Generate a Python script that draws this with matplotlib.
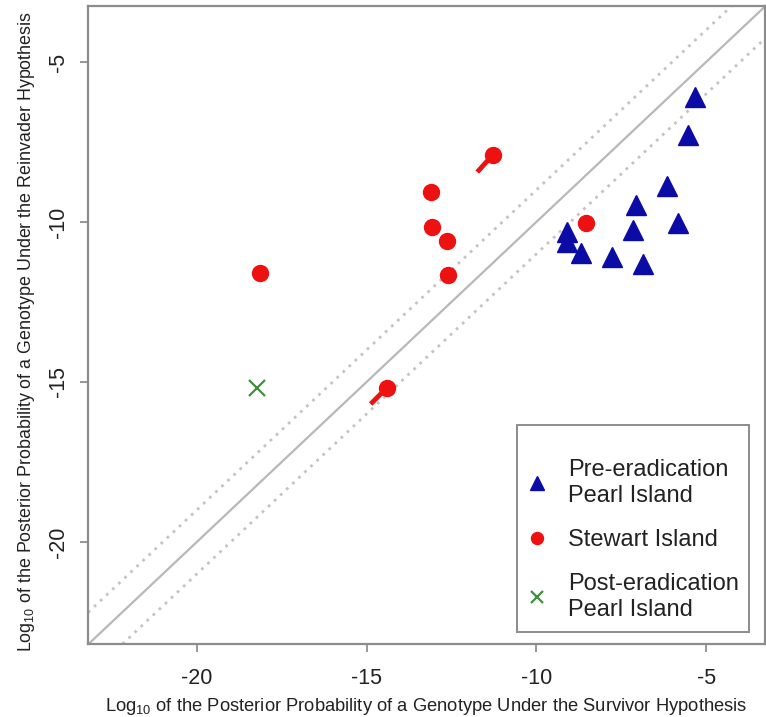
import matplotlib
matplotlib.use("Agg")
import matplotlib.pyplot as plt

plt.rcParams['font.family'] = ['Liberation Sans', 'DejaVu Sans']
plt.rcParams['mathtext.default'] = 'regular'

# ---- data (log10 posterior probabilities) ----
pre_x = [-5.32, -5.53, -6.15, -7.06, -5.82, -7.15, -9.09, -9.09, -8.68, -7.76, -6.85]
pre_y = [-6.09, -7.28, -8.88, -9.47, -10.03, -10.25, -10.31, -10.63, -10.97, -11.09, -11.31]

stew_x = [-11.29, -13.09, -13.06, -12.62, -12.59, -18.15, -14.41, -8.53]
stew_y = [-7.91, -9.06, -10.16, -10.59, -11.66, -11.59, -15.19, -10.03]

# short segments attached to two Stewart Island points
tail_x0 = [-11.29, -14.41]
tail_y0 = [-7.91, -15.19]
tail_x1 = [-11.74, -14.88]
tail_y1 = [-8.44, -15.69]

post_x = [-18.24]
post_y = [-15.19]

line_offsets = [0, 1, -1]
ticks = [-20, -15, -10, -5]
labels = ["Pre-eradication\nPearl Island", "Stewart Island", "Post-eradication\nPearl Island"]

# ---- figure ----
fig = plt.figure(figsize=(7.66, 7.17), dpi=100)
ax = fig.add_axes([88/766, 73/717, 677/766, 638/717])

ax.set_xlim(-23.206, -3.265)
ax.set_ylim(-23.19, -3.25)

for off in line_offsets:
    if off == 0:
        ax.axline((0, off), slope=1, color='#b8b8b8', lw=1.6, zorder=1)
    else:
        ax.axline((0, off), slope=1, color='#c4c4c4', lw=2.0,
                  linestyle=(0, (1, 2)), zorder=1)

for x0, y0, x1, y1 in zip(tail_x0, tail_y0, tail_x1, tail_y1):
    ax.plot([x0, x1], [y0, y1], color='#ee1111', lw=3.5, solid_capstyle='butt', zorder=2)

ax.plot(pre_x, pre_y, linestyle='none', marker='^', ms=14, color='#0b0ba6',
        mec='#0b0ba6', label=labels[0], zorder=3)
ax.plot(stew_x, stew_y, linestyle='none', marker='o', ms=11.5, color='#ee1111',
        mec='#ee1111', label=labels[1], zorder=3)
ax.plot(post_x, post_y, linestyle='none', marker='x', ms=11, mew=1.6, color='#3f8f3f',
        label=labels[2], zorder=3)

ax.set_xticks(ticks)
ax.set_yticks(ticks)
ax.set_xticklabels([str(t) for t in ticks])
ax.set_yticklabels([str(t) for t in ticks])
ax.tick_params(axis='both', direction='out', length=6, width=1.2, color='#888888',
               labelsize=15.5, labelcolor='#222222')
ax.tick_params(axis='x', pad=11)
ax.tick_params(axis='y', pad=8, labelrotation=90)
for t in ax.get_yticklabels():
    t.set_va('center')

for s in ax.spines.values():
    s.set_color('#8c8c8c')
    s.set_linewidth(1.6)

ax.set_xlabel('Log$_{10}$ of the Posterior Probability of a Genotype Under the Survivor Hypothesis',
              fontsize=13.2, color='#222222', labelpad=5)
ax.set_ylabel('Log$_{10}$ of the Posterior Probability of a Genotype Under the Reinvader Hypothesis',
              fontsize=12.9, color='#222222')
ax.yaxis.set_label_coords(-0.075, 0.49)

leg = ax.legend(loc='upper left', bbox_to_anchor=(0.634, 0.343), borderaxespad=0,
                fontsize=17, frameon=True, fancybox=False, framealpha=1,
                edgecolor='#8c8c8c', markerscale=0.75, handlelength=0.8,
                handletextpad=0.9, labelspacing=0.95, borderpad=0.45,
                title=' ', title_fontsize=1)
leg.get_frame().set_linewidth(1.4)
for t in leg.get_texts():
    t.set_linespacing(1.2)
    t.set_color('#222222')

fig.savefig('out.png', dpi=100)
